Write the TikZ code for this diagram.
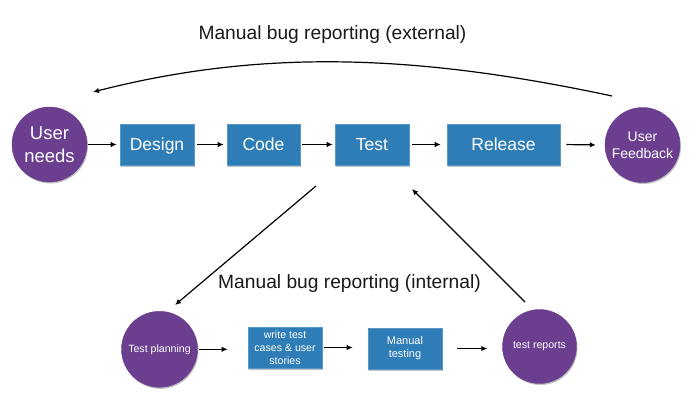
\documentclass[tikz,border=0pt]{standalone}
\usepackage{fontspec}
\setmainfont{Liberation Sans}
\usetikzlibrary{arrows.meta,shadows}
\definecolor{boxblue}{RGB}{46,125,182}
\definecolor{boxedge}{RGB}{88,152,200}
\definecolor{circpurple}{RGB}{107,62,143}
\begin{document}
\begin{tikzpicture}[x=1pt,y=-1pt,
  shad/.style={drop shadow={shadow xshift=1pt,shadow yshift=-1.5pt,opacity=0.35,fill=black!70}},
  bluebox/.style={rectangle,fill=boxblue,draw=boxedge,line width=0.6pt,text=white,align=center,inner sep=0pt,minimum height=41pt,shad},
  purplecirc/.style={circle,fill=circpurple,draw=circpurple,text=white,align=center,inner sep=0pt,shad},
  big/.style={font=\fontsize{17.5}{21.5}\selectfont,text height=12.6pt,text depth=0pt},
  small/.style={font=\fontsize{10.6}{13.2}\selectfont},
  conn/.style={line width=1.2pt,-{Latex[length=6pt,width=5.5pt]}},
  lbl/.style={font=\fontsize{19.2}{22}\selectfont,text=black!90}]
\useasboundingbox (0,0) rectangle (700,409);
% top row
\node[purplecirc,minimum size=75pt,font=\fontsize{18.5}{22.5}\selectfont] (un) at (49.5,144.5) {User\\needs};
\node[bluebox,big,minimum width=74pt] (design) at (157,144.5) {Design};
\node[bluebox,big,minimum width=73pt] (code) at (263.5,144.5) {Code};
\node[bluebox,big,minimum width=74pt] (test) at (372,144.5) {Test};
\node[bluebox,big,minimum width=113pt] (release) at (503.5,144.5) {Release};
\node[purplecirc,minimum size=75pt,font=\fontsize{14}{17}\selectfont] (uf) at (642.5,145) {User\\Feedback};
% bottom row
\node[purplecirc,minimum size=76pt,small] (tp) at (159.5,349.3) {Test planning};
\node[bluebox,small,minimum width=74pt] (wt) at (285,347.5) {write test\\cases \& user\\stories};
\node[bluebox,small,minimum width=74pt,font=\fontsize{11}{12.8}\selectfont] (mt) at (405,348.5) {Manual\\testing};
\node[purplecirc,minimum size=74pt,small] (tr) at (539.5,346.5) {test reports};
% labels
\node[lbl] (ext) at (332.5,35) {Manual bug reporting (external)};
\node[lbl] (int) at (349.5,284) {Manual bug reporting (internal)};
% top row arrows
\draw[conn,shorten <=0.5pt,shorten >=3pt] (un.east) -- (design.west);
\draw[conn,shorten <=3pt,shorten >=3pt] (design.east) -- (code.west);
\draw[conn,shorten <=2pt,shorten >=2pt] (code.east) -- (test.west);
\draw[conn,shorten <=3pt,shorten >=6pt] (test.east) -- (release.west);
\draw[conn,shorten <=6pt,shorten >=9pt] (release.east) -- (uf.west);
% bottom row arrows
\draw[conn,shorten <=1pt,shorten >=20pt] (tp.east) -- (tp.east -| wt.west);
\draw[conn,shorten <=2pt,shorten >=15pt] (wt.east) -- (wt.east -| mt.west);
\draw[conn,shorten <=15pt,shorten >=15pt] (mt.east) -- (mt.east -| tr.west);
% feedback loops
\coordinate (extA) at (612,96);
\coordinate (extB) at (93,92);
\draw[conn] (extA) .. controls (420,55) and (265,48) .. (extB);
\coordinate (intA) at (316,186);
\coordinate (intB) at (175,305);
\draw[conn] (intA) -- (intB);
\coordinate (intC) at (525,302);
\coordinate (intD) at (412,189);
\draw[conn] (intC) -- (intD);
\end{tikzpicture}
\end{document}
